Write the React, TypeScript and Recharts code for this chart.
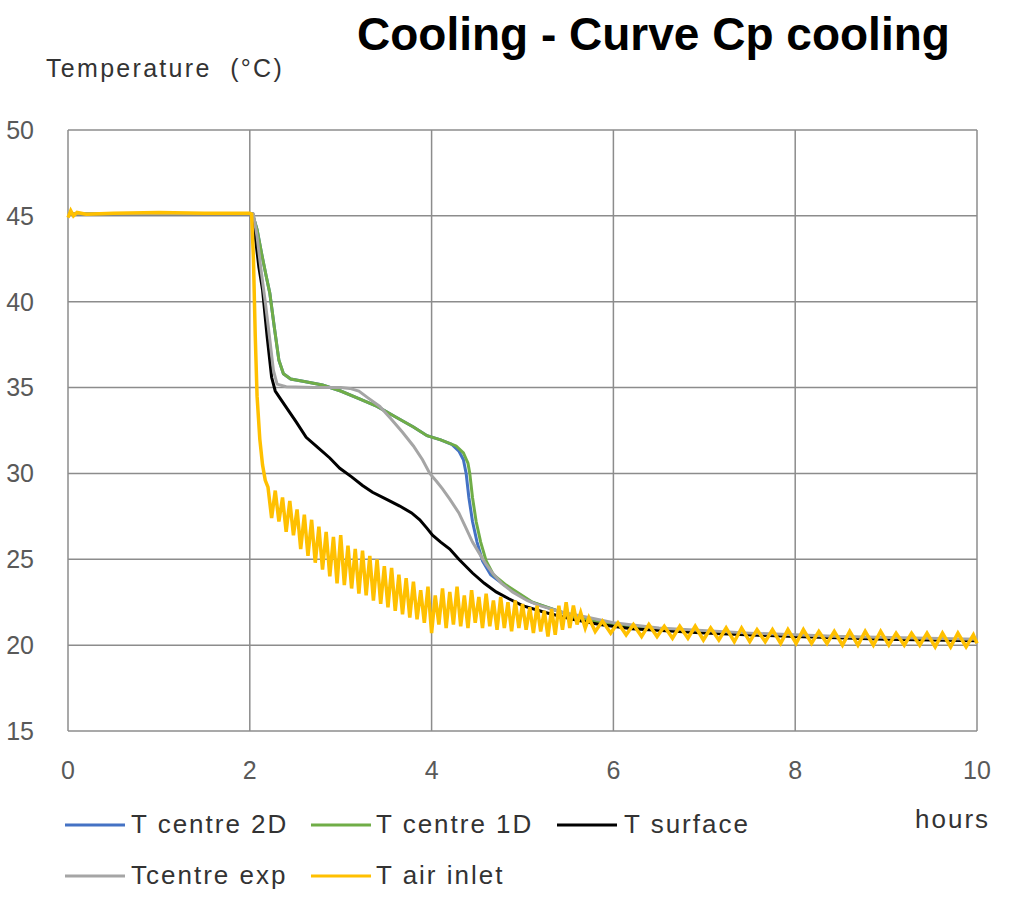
import { LineChart, Line, XAxis, YAxis, CartesianGrid } from "recharts";

type Pt = [number, number];

const xTicks = [0, 2, 4, 6, 8, 10];
const yTicks = [15, 20, 25, 30, 35, 40, 45, 50];

// hours, °C
const centre2D: Pt[] = [
  [0, 45.1], [2.03, 45.1], [2.08, 44.2], [2.13, 42.8], [2.18, 41.5], [2.22, 40.5],
  [2.27, 38.5], [2.32, 36.6], [2.37, 35.8], [2.45, 35.5], [2.6, 35.35], [2.8, 35.15],
  [3.0, 34.8], [3.2, 34.35], [3.4, 33.9], [3.6, 33.3], [3.8, 32.7], [3.95, 32.2],
  [4.1, 31.95], [4.22, 31.7], [4.3, 31.3], [4.35, 30.8], [4.38, 30.0], [4.41, 28.6],
  [4.45, 27.2], [4.5, 26.0], [4.56, 24.9], [4.65, 24.1], [4.8, 23.5], [5.1, 22.5],
  [5.55, 21.7], [5.85, 21.3], [6.2, 21.0], [7, 20.75], [8, 20.55], [9, 20.4], [10, 20.3],
];

const centre1D: Pt[] = [
  [0, 45.1], [2.03, 45.1], [2.08, 44.2], [2.13, 42.8], [2.18, 41.5], [2.22, 40.5],
  [2.27, 38.5], [2.32, 36.6], [2.37, 35.8], [2.45, 35.5], [2.6, 35.35], [2.8, 35.15],
  [3.0, 34.8], [3.2, 34.35], [3.4, 33.9], [3.6, 33.3], [3.8, 32.7], [3.95, 32.2],
  [4.1, 31.95], [4.27, 31.6], [4.35, 31.2], [4.4, 30.6], [4.42, 30.0], [4.45, 28.6],
  [4.49, 27.2], [4.54, 26.0], [4.6, 24.9], [4.68, 24.1], [4.82, 23.5], [5.11, 22.5],
  [5.55, 21.7], [5.85, 21.3], [6.2, 21.0], [7, 20.75], [8, 20.55], [9, 20.4], [10, 20.3],
];

const surface: Pt[] = [
  [0, 45.1], [2.03, 45.1], [2.06, 43.8], [2.1, 42.0], [2.14, 40.7], [2.19, 38.0],
  [2.24, 35.6], [2.28, 34.8], [2.33, 34.4], [2.42, 33.7], [2.51, 33.0], [2.62, 32.1],
  [2.75, 31.5], [2.88, 30.9], [2.99, 30.3], [3.12, 29.8], [3.24, 29.3], [3.35, 28.9],
  [3.5, 28.5], [3.65, 28.1], [3.78, 27.7], [3.87, 27.3], [3.95, 26.8], [4.01, 26.4],
  [4.1, 26.0], [4.2, 25.6], [4.3, 25.0], [4.45, 24.2], [4.58, 23.6], [4.71, 23.1],
  [4.85, 22.7], [5.0, 22.3], [5.25, 21.9], [5.55, 21.5], [5.85, 21.2], [6.2, 20.95],
  [7, 20.7], [8, 20.5], [9, 20.35], [10, 20.25],
];

const centreExp: Pt[] = [
  [0, 45.1], [2.04, 45.1], [2.08, 43.8], [2.12, 42.0], [2.17, 40.0], [2.22, 37.8],
  [2.26, 36.0], [2.3, 35.2], [2.4, 35.05], [2.7, 35.0], [3.0, 35.0], [3.1, 34.95],
  [3.2, 34.8], [3.3, 34.4], [3.43, 33.9], [3.55, 33.2], [3.68, 32.4], [3.8, 31.6],
  [3.9, 30.8], [3.98, 30.0], [4.06, 29.5], [4.12, 29.1], [4.2, 28.5], [4.3, 27.7],
  [4.38, 26.8], [4.45, 26.0], [4.53, 25.3], [4.6, 24.7], [4.67, 24.2], [4.77, 23.6],
  [4.89, 23.1], [5.05, 22.6], [5.19, 22.3], [5.45, 21.9], [5.74, 21.6], [6.0, 21.3],
  [6.5, 21.0], [7.5, 20.7], [8.5, 20.5], [10, 20.35],
];

const airInlet: Pt[] = [
  [0, 44.9], [0.03, 45.3], [0.06, 45.0], [0.1, 45.2], [0.2, 45.1], [0.5, 45.15],
  [1, 45.2], [1.5, 45.15], [2, 45.15], [2.02, 45.1], [2.04, 42.5], [2.06, 38.0],
  [2.08, 34.5], [2.11, 32.0], [2.14, 30.5], [2.17, 29.6],
  [2.2, 29.2], [2.24, 27.4], [2.28, 29.0], [2.32, 27.2], [2.36, 28.6], [2.4, 26.6],
  [2.44, 28.4], [2.48, 26.4], [2.52, 27.9], [2.56, 25.6], [2.6, 27.6], [2.64, 25.2],
  [2.68, 27.3], [2.72, 24.8], [2.76, 26.9], [2.8, 24.4], [2.84, 26.6], [2.88, 24.0],
  [2.92, 26.3], [2.96, 23.6], [3.0, 26.4], [3.04, 23.5], [3.08, 25.8], [3.12, 23.3],
  [3.16, 25.6], [3.2, 23.0], [3.24, 25.5], [3.28, 22.9], [3.32, 25.2], [3.36, 22.6],
  [3.4, 25.0], [3.44, 22.4], [3.48, 24.6], [3.52, 22.2], [3.56, 24.5], [3.6, 22.0],
  [3.64, 24.1], [3.68, 21.8], [3.72, 23.9], [3.76, 21.6], [3.8, 23.7], [3.84, 21.5],
  [3.88, 23.2], [3.92, 21.3], [3.96, 23.4], [4.0, 20.7], [4.04, 22.9], [4.08, 21.2],
  [4.12, 23.3], [4.16, 21.0], [4.2, 23.1], [4.24, 21.2], [4.28, 23.4], [4.32, 21.1],
  [4.36, 22.9], [4.4, 21.0], [4.44, 23.2], [4.48, 21.3], [4.52, 22.8], [4.56, 21.0],
  [4.6, 23.0], [4.64, 21.1], [4.68, 22.6], [4.72, 20.9], [4.76, 22.8], [4.8, 21.0],
  [4.84, 22.5], [4.88, 20.8], [4.92, 22.6], [4.96, 21.0], [5.0, 22.4], [5.04, 20.9],
  [5.08, 22.2], [5.12, 20.7], [5.16, 22.3], [5.2, 20.8], [5.24, 22.0], [5.28, 20.5],
  [5.32, 22.1], [5.36, 20.6], [5.4, 22.3], [5.44, 20.9], [5.48, 22.5], [5.52, 21.0],
  [5.56, 22.3], [5.6, 21.2], [5.64, 21.9], [5.69, 21.0], [5.73, 21.6],
  [5.8, 20.8], [5.88, 21.4], [5.97, 20.7], [6.05, 21.3], [6.14, 20.6], [6.22, 21.2],
  [6.31, 20.5], [6.39, 21.2], [6.48, 20.5], [6.56, 21.1], [6.65, 20.4], [6.73, 21.1],
  [6.82, 20.4], [6.9, 21.1], [6.99, 20.3], [7.07, 21.0], [7.16, 20.3], [7.24, 21.0],
  [7.33, 20.2], [7.41, 21.0], [7.5, 20.2], [7.58, 20.9], [7.67, 20.2], [7.75, 20.9],
  [7.84, 20.1], [7.92, 20.9], [8.01, 20.1], [8.09, 20.9], [8.18, 20.1], [8.26, 20.8],
  [8.35, 20.1], [8.43, 20.8], [8.52, 20.0], [8.6, 20.8], [8.69, 20.0], [8.77, 20.8],
  [8.86, 20.0], [8.94, 20.8], [9.03, 20.0], [9.11, 20.7], [9.2, 20.0], [9.28, 20.7],
  [9.37, 20.0], [9.45, 20.7], [9.54, 19.9], [9.62, 20.7], [9.71, 19.9], [9.79, 20.7],
  [9.88, 19.9], [9.96, 20.6], [10, 20.1],
];

const toRows = (pts: Pt[]) => pts.map(([h, t]) => ({ h, t }));

const series = [
  { name: "T centre 2D", color: "#4472C4", width: 3, pts: centre2D },
  { name: "T centre 1D", color: "#70AD47", width: 3, pts: centre1D },
  { name: "T surface", color: "#000000", width: 3, pts: surface },
  { name: "Tcentre exp", color: "#A5A5A5", width: 3, pts: centreExp },
  { name: "T air inlet", color: "#FFC000", width: 3.5, pts: airInlet },
];

const FONT = "'Liberation Sans', Arial, sans-serif";

// legend layout: [lineStart, textX, baselineY]
const legendPos = [
  [65, 131, 833],
  [311, 376, 833],
  [557, 624, 833],
  [65, 131, 884],
  [311, 376, 884],
];

export default function App() {
  return (
    <div style={{ position: "absolute", left: 0, top: 0, width: 1024, height: 902, background: "#fff" }}>
      <LineChart
        width={1024}
        height={902}
        margin={{ top: 130, right: 47, bottom: 111, left: 0 }}
        style={{ fontFamily: FONT }}
      >
        <CartesianGrid stroke="#8c8c8c" strokeWidth={1.5} />
        <XAxis
          type="number"
          dataKey="h"
          domain={[0, 10]}
          ticks={xTicks}
          axisLine={false}
          tickLine={false}
          tickSize={0}
          tickMargin={30}
          height={60}
          allowDuplicatedCategory={false}
          tick={{ fontSize: 25, fill: "#595959" }}
        />
        <YAxis
          type="number"
          domain={[15, 50]}
          ticks={yTicks}
          axisLine={false}
          tickLine={false}
          tickSize={0}
          tickMargin={34}
          width={68}
          tick={{ fontSize: 25, fill: "#595959" }}
        />
        {series.map((s) => (
          <Line
            key={s.name}
            data={toRows(s.pts)}
            dataKey="t"
            name={s.name}
            type="linear"
            stroke={s.color}
            strokeWidth={s.width}
            dot={false}
            isAnimationActive={false}
          />
        ))}
      </LineChart>
      <svg
        width={1024}
        height={902}
        style={{ position: "absolute", left: 0, top: 0, pointerEvents: "none", fontFamily: FONT }}
      >
        <text x={357} y={50} fontSize={46} fontWeight="bold" fill="#000">
          Cooling - Curve Cp cooling
        </text>
        <text x={46} y={77} fontSize={25} fill="#333" letterSpacing={2.3}>
          {"Temperature\u00A0\u00A0(°C)"}
        </text>
        <text x={915} y={828} fontSize={26} fill="#333" letterSpacing={2}>
          hours
        </text>
        {series.map((s, i) => {
          const [lx, tx, by] = legendPos[i];
          return (
            <g key={s.name}>
              <line x1={lx} x2={lx + 60} y1={by - 8} y2={by - 8} stroke={s.color} strokeWidth={3} />
              <text x={tx} y={by} fontSize={26} fill="#333" letterSpacing={2}>
                {s.name}
              </text>
            </g>
          );
        })}
      </svg>
    </div>
  );
}
